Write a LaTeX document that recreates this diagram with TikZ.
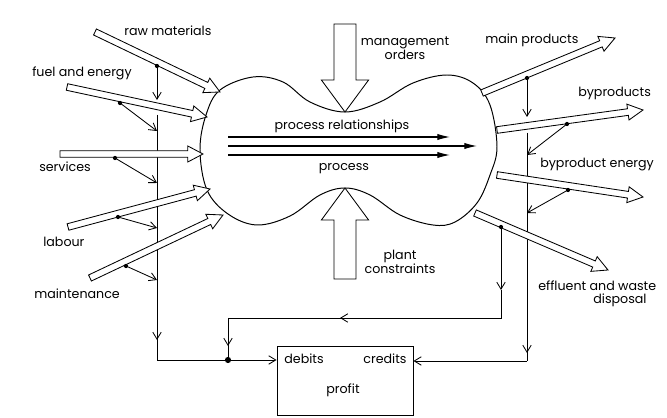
\documentclass[tikz,border=0pt]{standalone}
\usepackage{fontspec}
\setmainfont{Poppins}
\usepackage{tikz}
\usetikzlibrary{calc,arrows.meta}

\tikzset{
	flow/.style={draw, fill=white, line width=0.6pt, line join=miter},
	link/.style={line width=0.6pt},
	barb/.style={-{Straight Barb[length=5pt,width=6pt]}},
	rel/.style={line width=0.8pt,-{Latex[length=9pt,width=4.5pt]}},
	lbl/.style={font=\fontsize{9}{10}\selectfont, inner sep=0pt},
}

\newcommand{\hollowarrow}[5]{
	\coordinate (hb) at ($(#2)!#5!(#1)$);
	\draw[flow] ($(#1)!#3!90:(#2)$) -- ($(hb)!#3!90:(#2)$) -- ($(hb)!#4!90:(#2)$) -- (#2)
		-- ($(hb)!#4!-90:(#2)$) -- ($(hb)!#3!-90:(#2)$) -- ($(#1)!#3!-90:(#2)$) -- cycle;
}

\begin{document}
\begin{tikzpicture}[x=0.025cm,y=-0.025cm]
				\useasboundingbox (0,0) rectangle (667,418);
				\coordinate (raw0) at (95,32);
				\coordinate (raw1) at (220,92);
				\coordinate (fuel0) at (67,87);
				\coordinate (fuel1) at (207,117);
				\coordinate (serv0) at (60,154);
				\coordinate (serv1) at (203,154);
				\coordinate (lab0) at (68,227);
				\coordinate (lab1) at (210,189);
				\coordinate (mnt0) at (90,278);
				\coordinate (mnt1) at (223,215);
				\coordinate (main0) at (482,93);
				\coordinate (main1) at (615,38);
				\coordinate (byp0) at (497,130);
				\coordinate (byp1) at (643,110);
				\coordinate (bye0) at (497,175);
				\coordinate (bye1) at (643,197);
				\coordinate (eff0) at (475,213);
				\coordinate (eff1) at (608,270);
				\coordinate (mgt0) at (345,24);
				\coordinate (mgt1) at (345,112);
				\coordinate (plt0) at (345,279);
				\coordinate (plt1) at (345,188);
				\draw[line width=0.7pt] plot[smooth cycle, tension=0.6] coordinates {
					(200,150) (206,115) (220,90) (253,77) (283,82) (310,102) (345,112) (380,102)
					(413,83) (447,75) (473,83) (490,105) (497,147) (490,175) (477,203) (455,222)
					(433,225) (400,215) (370,195) (345,188) (320,195) (290,216) (257,225) (228,214) (207,190)};
				\node[draw, line width=0.6pt, minimum width=3.4cm, minimum height=1.725cm] (profit) at (345,380.5) {};
				\coordinate (rawtap) at (157,66);
				\coordinate (l1) at (157,100);
				\coordinate (l2) at (157,115);
				\coordinate (l3) at (157,340);
				\coordinate (lcorner) at (157,360);
				\coordinate (junc) at (228,360);
				\coordinate (fueltap) at (120,103);
				\coordinate (fuelin) at (157,131);
				\coordinate (servtap) at (115,158);
				\coordinate (servin) at (157,183);
				\coordinate (labtap) at (118,217);
				\coordinate (labin) at (157,228);
				\coordinate (mnttap) at (126,266);
				\coordinate (mntin) at (157,280);
				\coordinate (maintap) at (527,78);
				\coordinate (r1) at (527,117);
				\coordinate (r2) at (527,133);
				\coordinate (r3) at (527,353);
				\coordinate (rcorner) at (527,361);
				\coordinate (byptap) at (567,124);
				\coordinate (bypin) at (527,155);
				\coordinate (byetap) at (568,190);
				\coordinate (byein) at (527,213);
				\coordinate (efftap) at (501,227);
				\coordinate (e1) at (501,290);
				\coordinate (ecorner) at (501,318);
				\coordinate (e2) at (340,318);
				\coordinate (fcorner) at (228,318);
				\coordinate (f1) at (228,346);
				\draw[link] (l2) -- (lcorner) -- (junc);
				\draw[link,barb] (rawtap) -- (l1);
				\draw[link,barb] (l2) -- (l3);
				\draw[link,barb] (junc) -- (junc -| profit.west);
				\draw[link] (r2) -- (rcorner);
				\draw[link,barb] (maintap) -- (r1);
				\draw[link,barb] (r2) -- (r3);
				\draw[link,barb] (rcorner) -- (rcorner -| profit.east);
				\draw[link] (e1) -- (ecorner) -- (fcorner) -- (junc);
				\draw[link,barb] (efftap) -- (e1);
				\draw[link,barb] (ecorner) -- (e2);
				\draw[link,barb] (fcorner) -- (f1);
				\hollowarrow{raw0}{raw1}{0.083cm}{0.2cm}{0.38cm}
				\hollowarrow{fuel0}{fuel1}{0.083cm}{0.2cm}{0.38cm}
				\hollowarrow{serv0}{serv1}{0.083cm}{0.2cm}{0.38cm}
				\hollowarrow{lab0}{lab1}{0.083cm}{0.2cm}{0.38cm}
				\hollowarrow{mnt0}{mnt1}{0.083cm}{0.2cm}{0.38cm}
				\hollowarrow{main0}{main1}{0.083cm}{0.2cm}{0.38cm}
				\hollowarrow{byp0}{byp1}{0.083cm}{0.2cm}{0.38cm}
				\hollowarrow{bye0}{bye1}{0.083cm}{0.2cm}{0.38cm}
				\hollowarrow{eff0}{eff1}{0.083cm}{0.2cm}{0.38cm}
				\hollowarrow{mgt0}{mgt1}{0.275cm}{0.59cm}{0.8cm}
				\hollowarrow{plt0}{plt1}{0.275cm}{0.59cm}{0.8cm}
				\draw[link,barb] (fueltap) -- (fuelin);
				\draw[link,barb] (servtap) -- (servin);
				\draw[link,barb] (labtap) -- (labin);
				\draw[link,barb] (mnttap) -- (mntin);
				\draw[link,barb] (byptap) -- (bypin);
				\draw[link,barb] (byetap) -- (byein);
				\foreach \t in {rawtap,fueltap,servtap,labtap,mnttap,maintap,byptap,byetap,efftap}
					\fill (\t) circle (1.5pt);
				\fill (junc) circle (2.2pt);
				\coordinate (p1a) at (228,137);
				\coordinate (p1b) at (450,137);
				\coordinate (p2a) at (228,146);
				\coordinate (p2b) at (477,146);
				\coordinate (p3a) at (228,155);
				\coordinate (p3b) at (450,155);
				\draw[rel] (p1a) -- (p1b);
				\draw[rel] (p2a) -- (p2b);
				\draw[rel] (p3a) -- (p3b);
				\node[lbl, anchor=west] (rawlbl) at (124,31) {raw materials};
				\node[lbl, anchor=west] (fuellbl) at (32,73) {fuel and energy};
				\node[lbl, anchor=west] (servlbl) at (39,167) {services};
				\node[lbl, anchor=west] (lablbl) at (43,242) {labour};
				\node[lbl, anchor=west] (mntlbl) at (34,294) {maintenance};
				\node[lbl, align=center] (mgtlbl) at (405,48) {management\\orders};
				\node[lbl, align=center] (pltlbl) at (400,262) {plant\\constraints};
				\node[lbl] (rellbl) at (342,126) {process relationships};
				\node[lbl] (proclbl) at (344,169) {process};
				\node[lbl, anchor=west] (mainlbl) at (485,40) {main products};
				\node[lbl, anchor=west] (byplbl) at (578,93) {byproducts};
				\node[lbl, anchor=west] (byelbl) at (540,165) {byproduct energy};
				\node[lbl, anchor=west] (efflbl) at (538,286) {effluent and waste};
				\node[lbl] (displbl) at (620,300) {disposal};
				\node[lbl] (debitlbl) at (304,359) {debits};
				\node[lbl] (creditlbl) at (385,359) {credits};
				\node[lbl] (profitlbl) at (343,390) {profit};
			\end{tikzpicture}
\end{document}
